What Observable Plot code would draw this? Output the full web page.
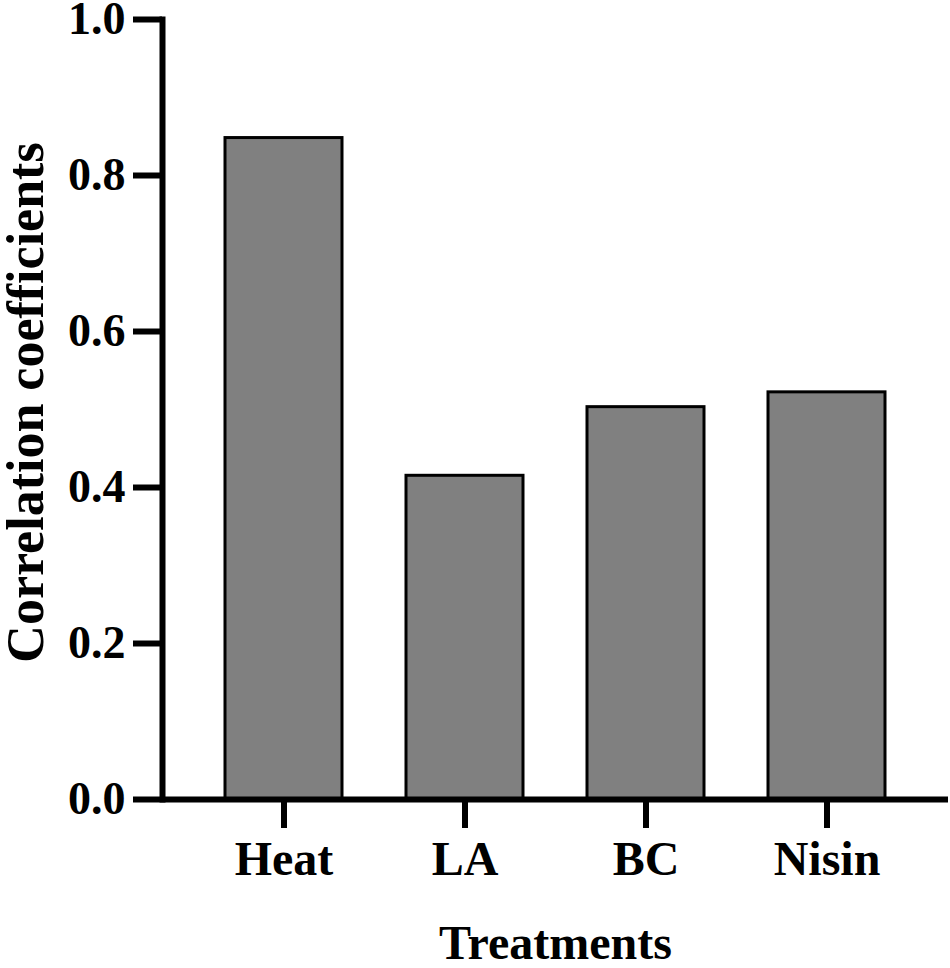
<!DOCTYPE html>
<html>
<head>
<meta charset="utf-8">
<script src="https://cdn.jsdelivr.net/npm/d3@7"></script>
<script src="https://cdn.jsdelivr.net/npm/@observablehq/plot@0.6"></script>
<style>
  html, body { margin: 0; padding: 0; background: #fff; }
</style>
</head>
<body>
<div id="chart"></div>
<script>
const treatments = ["Heat", "LA", "BC", "Nisin"];
const coefficients = [0.848, 0.415, 0.503, 0.522];
const yTicks = [0, 0.2, 0.4, 0.6, 0.8, 1.0];
const xTitle = "Treatments";
const yTitle = "Correlation coefficients";

const data = treatments.map((t, i) => ({treatment: t, value: coefficients[i]}));
const font = "'Liberation Serif', 'Times New Roman', serif";

const chart = Plot.plot({
  width: 950,
  height: 968,
  marginLeft: 162,
  marginRight: 2,
  marginTop: 19,
  marginBottom: 169,
  style: {fontFamily: font, fontWeight: "bold", background: "#fff", color: "#000", overflow: "visible"},
  x: {domain: treatments, paddingInner: 0.351, paddingOuter: 0.344},
  y: {domain: [0, 1]},
  marks: [
    Plot.barY(data, {x: "treatment", y: "value", fill: "#808080", stroke: "#000", strokeWidth: 3}),
    Plot.frame({anchor: "left", strokeWidth: 6, stroke: "#000"}),
    Plot.ruleY([0], {strokeWidth: 6, stroke: "#000"}),
    Plot.axisY({ticks: yTicks, tickFormat: d3.format(".1f"), tickSize: 29, tickPadding: 8, strokeWidth: 6, fontSize: 46, label: null}),
    Plot.axisX({tickSize: 29, tickPadding: 12, strokeWidth: 6, fontSize: 48, label: null}),
    Plot.text([xTitle], {text: d => d, frameAnchor: "bottom", lineAnchor: "middle", dy: 144, fontSize: 48, fontWeight: "bold", letterSpacing: 1.3}),
    Plot.text([yTitle], {text: d => d, frameAnchor: "left", textAnchor: "middle", lineAnchor: "middle", dx: -136, dy: -7, rotate: -90, fontSize: 52, fontWeight: "bold"})
  ]
});
document.getElementById("chart").appendChild(chart);
</script>
</body>
</html>
